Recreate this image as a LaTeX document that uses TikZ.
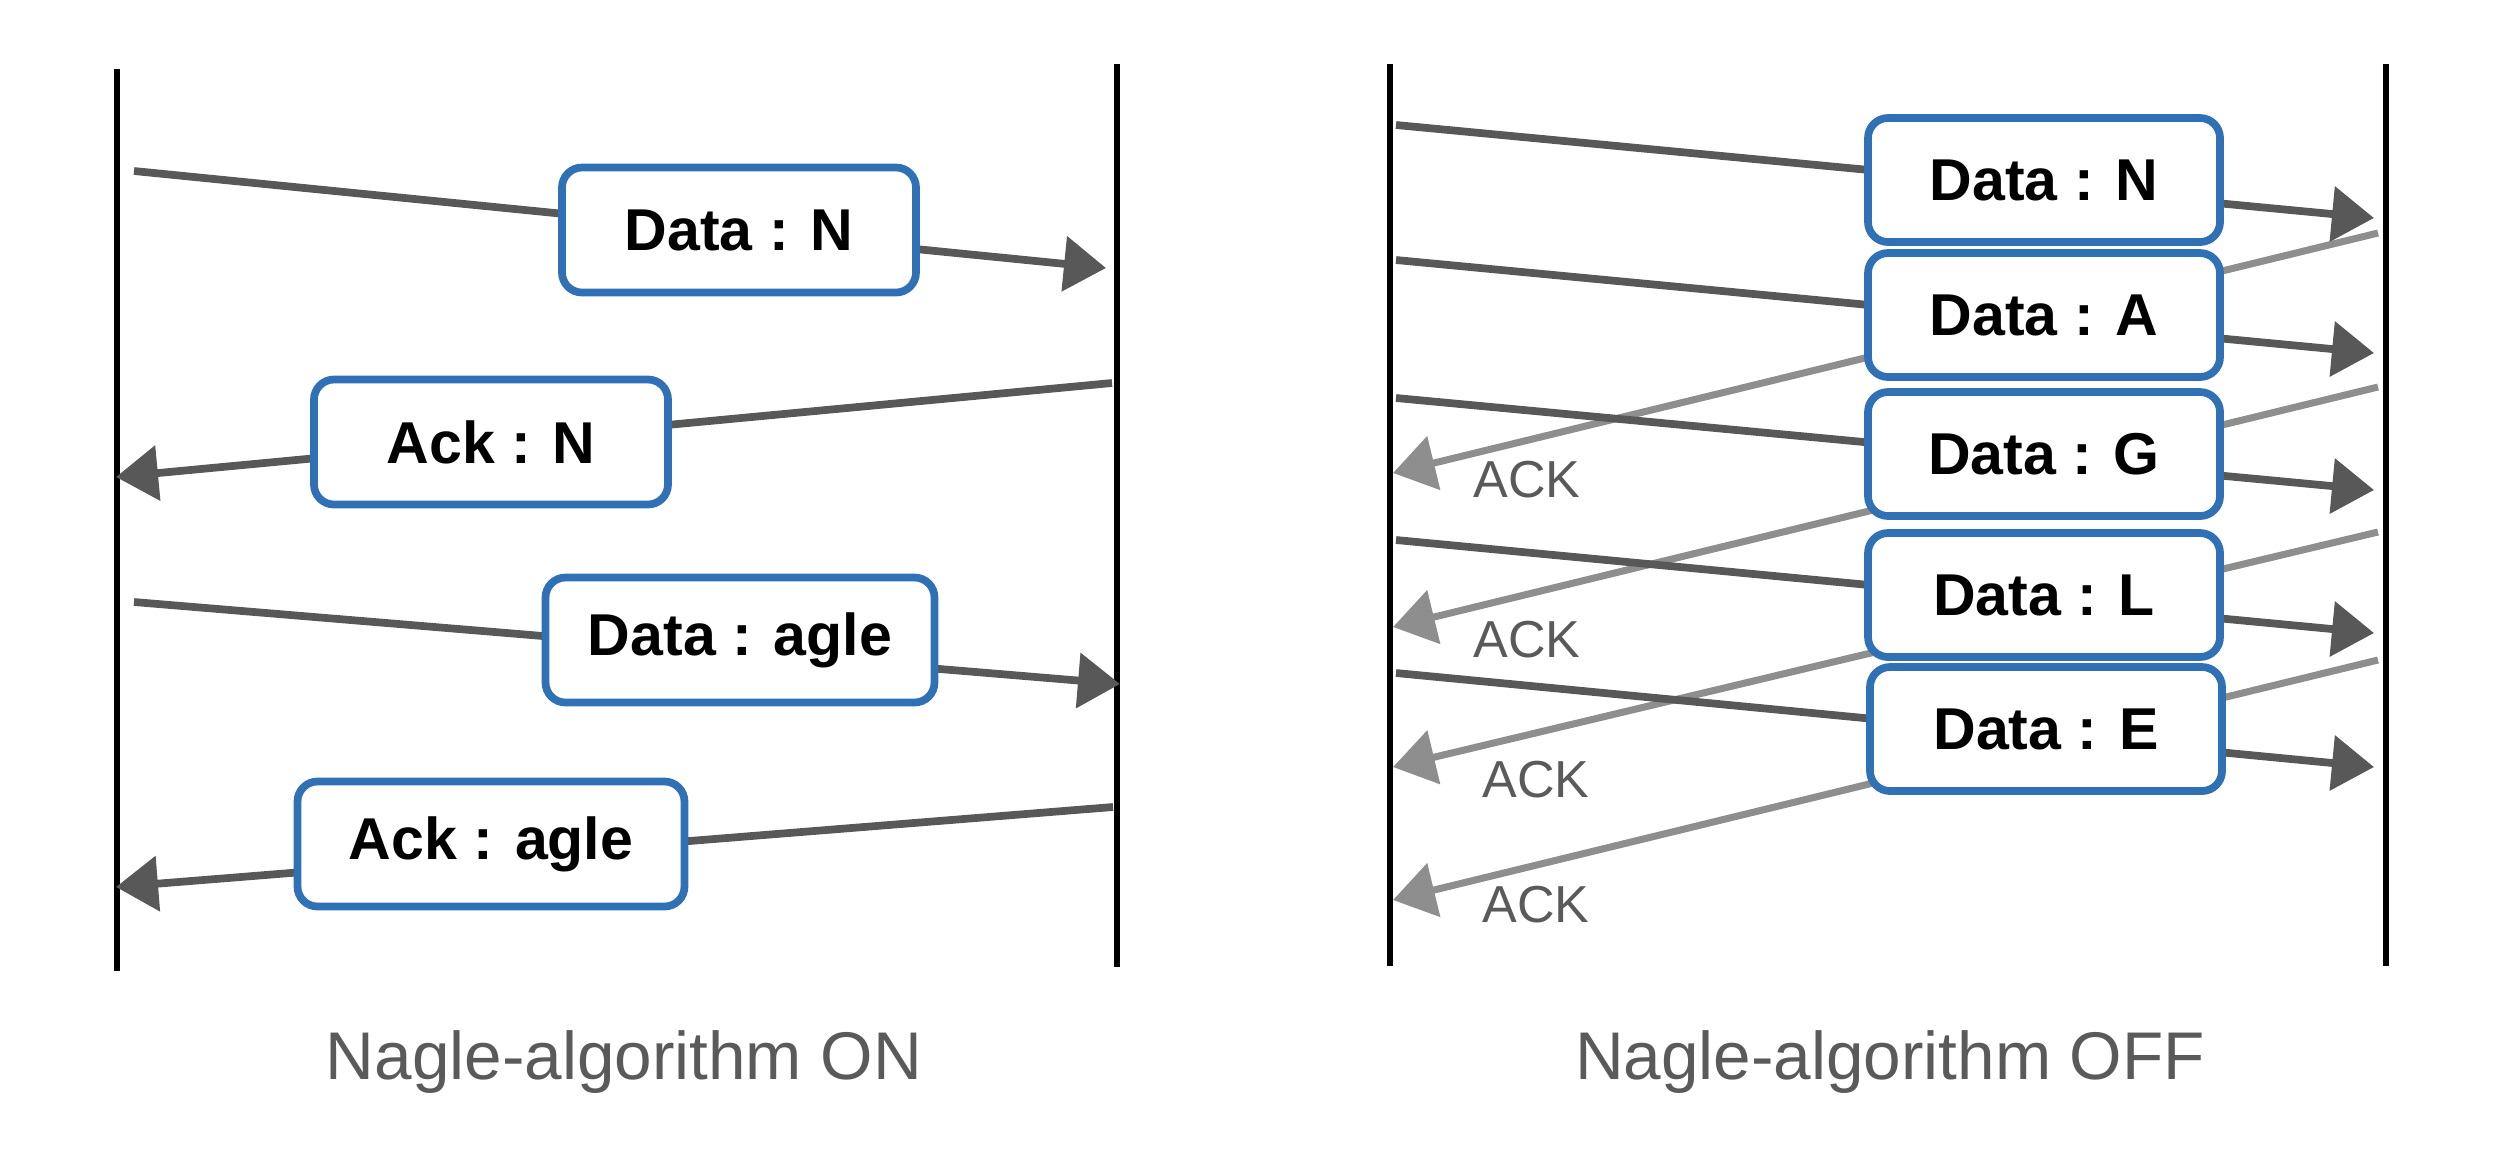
\documentclass[tikz,border=0pt]{standalone}
\usepackage{fontspec}
\setmainfont{Liberation Sans}
\usetikzlibrary{arrows.meta}
\definecolor{darkarrow}{HTML}{585858}
\definecolor{lightarrow}{HTML}{8E8E8E}
\definecolor{boxblue}{HTML}{3070B5}
\definecolor{textgray}{HTML}{5A5A5A}
\begin{document}
\begin{tikzpicture}[x=1cm,y=1cm,
  lifeline/.style={line width=1.6pt, draw=black},
  dataarrow/.style={draw=darkarrow, line width=2.2pt, -{Triangle[length=0.42cm,width=0.54cm]}},
  ackarrow/.style={draw=lightarrow, line width=2.0pt, -{Triangle[length=0.42cm,width=0.54cm]}},
  msgbox/.style={draw=boxblue, line width=2.2pt, rounded corners=0.2cm, fill=white,
    minimum height=1.25cm, inner sep=0pt, font=\fontsize{16.8}{20}\selectfont\bfseries},
  acklabel/.style={text=textgray, inner sep=0pt, font=\fontsize{14.8}{18}\selectfont},
  caption/.style={text=textgray, inner sep=0pt, font=\fontsize{19.2}{23}\selectfont}
]
\useasboundingbox (0,0) rectangle (25.08,-11.74);

% ---------------- left panel: Nagle ON ----------------
\coordinate (LAtop) at (1.17,-0.69);
\coordinate (LAbot) at (1.17,-9.71);
\coordinate (LBtop) at (11.17,-0.64);
\coordinate (LBbot) at (11.17,-9.67);
\draw[lifeline] (LAtop) -- (LAbot);
\draw[lifeline] (LBtop) -- (LBbot);

\coordinate (d1s) at (1.34,-1.71);  \coordinate (d1e) at (11.06,-2.68);
\coordinate (a1s) at (11.12,-3.83); \coordinate (a1e) at (1.16,-4.77);
\coordinate (d2s) at (1.34,-6.02);  \coordinate (d2e) at (11.20,-6.84);
\coordinate (a2s) at (11.13,-8.07); \coordinate (a2e) at (1.16,-8.87);
\draw[dataarrow] (d1s) -- (d1e);
\draw[dataarrow] (a1s) -- (a1e);
\draw[dataarrow] (d2s) -- (d2e);
\draw[dataarrow] (a2s) -- (a2e);

\node[msgbox, minimum width=3.54cm] (bdN) at (7.39,-2.30) {Data : N};
\node[msgbox, minimum width=3.54cm] (baN) at (4.91,-4.42) {Ack : N};
\node[msgbox, minimum width=3.89cm] (bdA) at (7.40,-6.40) {Data : agle};
\node[msgbox, minimum width=3.87cm] (baA) at (4.91,-8.44) {Ack : agle};

\node[caption] (capON) at (6.24,-10.62) {Nagle-algorithm ON};

% ---------------- right panel: Nagle OFF ----------------
\coordinate (RAtop) at (13.90,-0.64);
\coordinate (RAbot) at (13.90,-9.66);
\coordinate (RBtop) at (23.86,-0.64);
\coordinate (RBbot) at (23.86,-9.66);
\draw[lifeline] (RAtop) -- (RAbot);
\draw[lifeline] (RBtop) -- (RBbot);

\coordinate (k1s) at (23.78,-2.33); \coordinate (k1e) at (13.93,-4.73);
\coordinate (k2s) at (23.78,-3.87); \coordinate (k2e) at (13.93,-6.27);
\coordinate (k3s) at (23.78,-5.32); \coordinate (k3e) at (13.93,-7.67);
\coordinate (k4s) at (23.78,-6.60); \coordinate (k4e) at (13.93,-9.00);
\draw[ackarrow] (k1s) -- (k1e);
\draw[ackarrow] (k2s) -- (k2e);
\draw[ackarrow] (k3s) -- (k3e);
\draw[ackarrow] (k4s) -- (k4e);

\coordinate (rNs) at (13.96,-1.25); \coordinate (rNe) at (23.74,-2.18);
\coordinate (rAs) at (13.96,-2.60); \coordinate (rAe) at (23.74,-3.53);
\coordinate (rGs) at (13.96,-3.98); \coordinate (rGe) at (23.74,-4.90);
\coordinate (rLs) at (13.96,-5.40); \coordinate (rLe) at (23.74,-6.33);
\coordinate (rEs) at (13.96,-6.73); \coordinate (rEe) at (23.74,-7.67);
\draw[dataarrow] (rNs) -- (rNe);
\draw[dataarrow] (rAs) -- (rAe);
\draw[dataarrow] (rGs) -- (rGe);
\draw[dataarrow] (rLs) -- (rLe);
\draw[dataarrow] (rEs) -- (rEe);

\node[msgbox, minimum width=3.52cm, minimum height=1.24cm] (rbN) at (20.44,-1.80) {Data : N};
\node[msgbox, minimum width=3.52cm, minimum height=1.24cm] (rbA) at (20.44,-3.15) {Data : A};
\node[msgbox, minimum width=3.52cm, minimum height=1.24cm] (rbG) at (20.44,-4.54) {Data : G};
\node[msgbox, minimum width=3.52cm, minimum height=1.24cm] (rbL) at (20.44,-5.95) {Data : L};
\node[msgbox, minimum width=3.52cm, minimum height=1.24cm] (rbE) at (20.46,-7.29) {Data : E};

\node[acklabel] (ack1) at (15.27,-4.80) {ACK};
\node[acklabel] (ack2) at (15.27,-6.40) {ACK};
\node[acklabel] (ack3) at (15.36,-7.80) {ACK};
\node[acklabel] (ack4) at (15.36,-9.05) {ACK};

\node[caption] (capOFF) at (18.90,-10.62) {Nagle-algorithm OFF};
\end{tikzpicture}
\end{document}
